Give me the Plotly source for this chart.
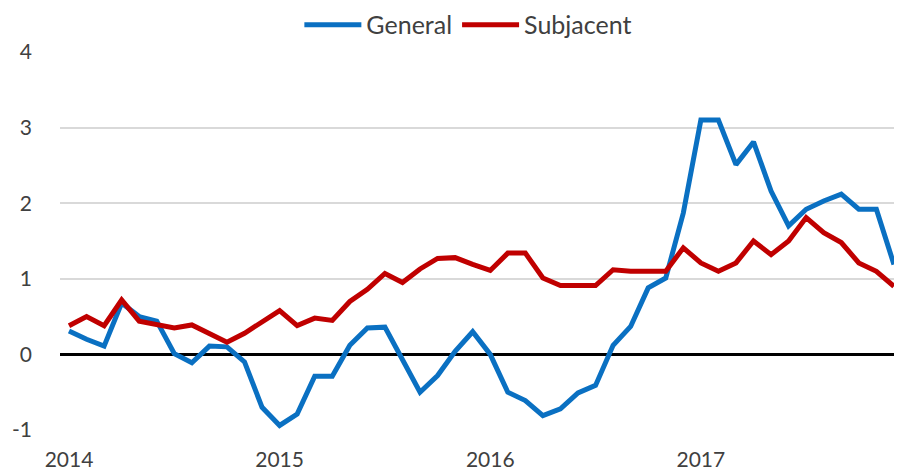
import plotly.graph_objects as go

months = [f"{y}-{m:02d}" for y in range(2014, 2018) for m in range(1, 13)]

general = [0.31, 0.20, 0.11, 0.68, 0.50, 0.44, 0.01, -0.11, 0.11, 0.10, -0.10, -0.70,
           -0.94, -0.79, -0.29, -0.29, 0.12, 0.35, 0.36, -0.08, -0.50, -0.28, 0.04, 0.30,
           0.00, -0.50, -0.61, -0.81, -0.72, -0.51, -0.41, 0.12, 0.37, 0.88, 1.01, 1.87,
           3.10, 3.10, 2.51, 2.81, 2.16, 1.70, 1.92, 2.03, 2.12, 1.92, 1.92, 1.19]

subjacent = [0.38, 0.50, 0.38, 0.72, 0.44, 0.40, 0.35, 0.39, 0.28, 0.16, 0.28, 0.44,
             0.58, 0.38, 0.48, 0.45, 0.70, 0.86, 1.07, 0.95, 1.13, 1.27, 1.28, 1.19,
             1.11, 1.34, 1.34, 1.01, 0.91, 0.91, 0.91, 1.12, 1.10, 1.10, 1.10, 1.41,
             1.21, 1.10, 1.21, 1.50, 1.32, 1.50, 1.81, 1.61, 1.48, 1.21, 1.10, 0.90]

year_ticks = ["2014-01", "2015-01", "2016-01", "2017-01"]
year_labels = ["2014", "2015", "2016", "2017"]
y_ticks = [-1, 0, 1, 2, 3, 4]
y_labels = ["-1", "0", "1", "2", "3", "4"]

font_family = "Lato, 'Open Sans', sans-serif"
text_color = "#404040"

fig = go.Figure()
fig.add_trace(go.Scatter(x=months, y=general, name="General", mode="lines",
                         line=dict(color="#0A70C2", width=5)))
fig.add_trace(go.Scatter(x=months, y=subjacent, name="Subjacent", mode="lines",
                         line=dict(color="#C00000", width=5)))

fig.update_layout(
    width=902, height=471,
    margin=dict(l=52, r=8, t=44, b=49, autoexpand=False),
    paper_bgcolor="white", plot_bgcolor="white",
    font=dict(family=font_family, size=21, color=text_color),
    showlegend=True,
    legend=dict(orientation="h", x=0.485, xanchor="center",
                yref="container", y=0.964, yanchor="middle",
                font=dict(size=25, color=text_color), itemwidth=57,
                bgcolor="rgba(0,0,0,0)", tracegroupgap=0),
)
fig.update_xaxes(type="category", range=[-0.513, 47.46], tickmode="array",
                 tickvals=year_ticks, ticktext=year_labels, showgrid=False,
                 showline=False, zeroline=False, ticks="", ticklabelstandoff=15,
                 tickfont=dict(size=21, color=text_color))
fig.update_yaxes(range=[-1, 4], tickmode="array", tickvals=y_ticks, ticktext=y_labels,
                 showgrid=True, gridcolor="#D9D9D9", gridwidth=1.5,
                 zeroline=True, zerolinecolor="black", zerolinewidth=2.5,
                 showline=False, ticks="", ticklabelstandoff=27,
                 tickfont=dict(size=21, color=text_color))

fig.write_html("out.html")
